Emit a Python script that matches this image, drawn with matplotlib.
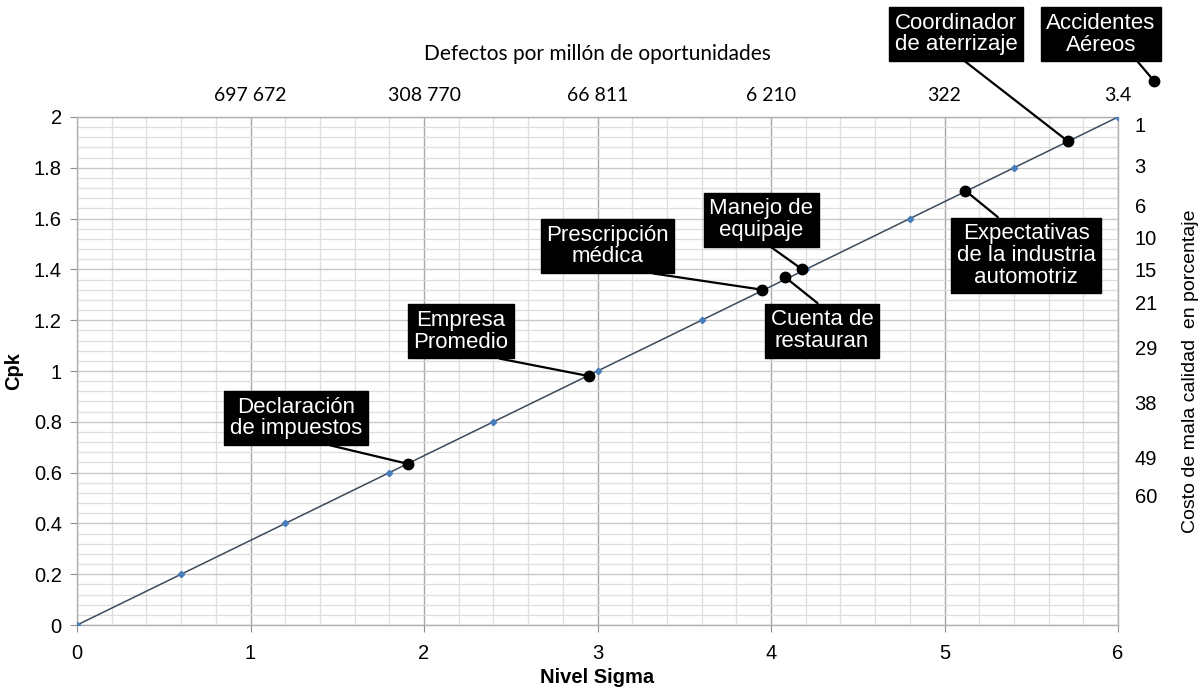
import matplotlib
matplotlib.use("Agg")
import matplotlib.pyplot as plt
from matplotlib.ticker import MultipleLocator
import numpy as np

# ---- data ----
sigma = [0, 0.6, 1.2, 1.8, 2.4, 3.0, 3.6, 4.2, 4.8, 5.4, 6.0]
cpk = [0, 0.2, 0.4, 0.6, 0.8, 1.0, 1.2, 1.4, 1.6, 1.8, 2.0]

top_ticks = [1, 2, 3, 4, 5, 6]
top_labels = ["697 672", "308 770", "66 811", "6 210", "322", "3.4"]

right_ticks = [1.969, 1.811, 1.650, 1.524, 1.398, 1.268, 1.094, 0.878, 0.661, 0.508]
right_labels = ["1", "3", "6", "10", "15", "21", "29", "38", "49", "60"]

ann_names = ["Declaración\nde impuestos", "Empresa\nPromedio", "Prescripción\nmédica",
             "Manejo de\nequipaje", "Cuenta de\nrestauran", "Expectativas\nde la industria\nautomotriz",
             "Coordinador\nde aterrizaje", "Accidentes\nAéreos"]
ann_x = [1.91, 2.95, 3.95, 4.18, 4.08, 5.12, 5.71, 6.21]
ann_y = [0.634, 0.98, 1.32, 1.40, 1.37, 1.71, 1.905, 2.14]
ann_text_x = [1.262, 2.213, 3.058, 3.945, 4.294, 5.470, 5.066, 5.902]
ann_text_y = [0.815, 1.157, 1.492, 1.596, 1.159, 1.455, 2.327, 2.325]
ann_relpos = [(0.57, 0), (0.58, 0), (0.54, 0), (0.51, 0), (0.53, 1), (0.35, 1), (0.51, 0), (0.79, 0)]

plt.rcParams['font.family'] = ['Liberation Sans', 'DejaVu Sans']

fig = plt.figure(figsize=(12.04, 6.87), dpi=100)
ax = fig.add_axes([0.064, 0.0902, 0.8646, 0.7395])

ax.set_xlim(0, 6)
ax.set_ylim(0, 2)
ax.xaxis.set_major_locator(MultipleLocator(1))
ax.xaxis.set_minor_locator(MultipleLocator(0.2))
ax.yaxis.set_major_locator(MultipleLocator(0.2))
ax.yaxis.set_minor_locator(MultipleLocator(0.04))
ax.grid(which='minor', color='#dedede', linewidth=0.9)
ax.grid(which='major', axis='y', color='#c8c8c8', linewidth=1.0)
ax.grid(which='major', axis='x', color='#a8a8a8', linewidth=1.0)
ax.set_axisbelow(True)
ax.tick_params(which='minor', length=0)
ax.tick_params(which='major', length=5, color='#909090', labelsize=14.5)
ax.tick_params(axis='x', pad=9)
ax.tick_params(axis='y', pad=6)
ax.set_yticks([0, 0.2, 0.4, 0.6, 0.8, 1.0, 1.2, 1.4, 1.6, 1.8, 2.0])
ax.set_yticklabels(["0", "0.2", "0.4", "0.6", "0.8", "1", "1.2", "1.4", "1.6", "1.8", "2"])
for s in ax.spines.values():
    s.set_color('#b0b0b0')
    s.set_linewidth(1.0)

ax.plot(sigma, cpk, color='#3c4a5a', linewidth=1.1, marker='D', markersize=3.2,
        markerfacecolor='#4a7ebb', markeredgecolor='#4a7ebb', zorder=3)

ax.set_xlabel("Nivel Sigma", fontsize=14.5, fontweight='bold', labelpad=3)
ax.set_ylabel("Cpk", fontsize=14.5, fontweight='bold', labelpad=8)

# top axis
axt = ax.twiny()
axt.set_xlim(0, 6)
axt.set_xticks(top_ticks)
axt.set_xticklabels(top_labels, fontfamily='Lato', fontsize=14)
axt.tick_params(length=0, pad=9)
axt.set_xlabel("Defectos por millón de oportunidades", fontfamily='Lato', fontsize=15, labelpad=20)
for s in axt.spines.values():
    s.set_visible(False)

# right axis
axr = ax.twinx()
axr.set_ylim(0, 2)
axr.set_yticks(right_ticks)
axr.set_yticklabels(right_labels, fontsize=14.5)
axr.tick_params(length=0, pad=12)
axr.set_ylabel("Costo de mala calidad  en porcentaje", fontsize=14, labelpad=18)
for s in axr.spines.values():
    s.set_visible(False)

# annotations
for name, px, py, tx, ty, rp in zip(ann_names, ann_x, ann_y, ann_text_x, ann_text_y, ann_relpos):
    ax.plot([px], [py], 'o', color='black', markersize=7.5, zorder=6, clip_on=False)
    ax.annotate(name, xy=(px, py), xytext=(tx, ty), textcoords='data',
                ha='center', va='center', fontsize=16, color='white',
                linespacing=1.05, annotation_clip=False, zorder=7,
                bbox=dict(boxstyle='square,pad=0.25', fc='black', ec='black'),
                arrowprops=dict(arrowstyle='-', color='black', lw=1.6,
                                relpos=rp, shrinkA=0, shrinkB=0))

fig.savefig("out.png", dpi=100)
